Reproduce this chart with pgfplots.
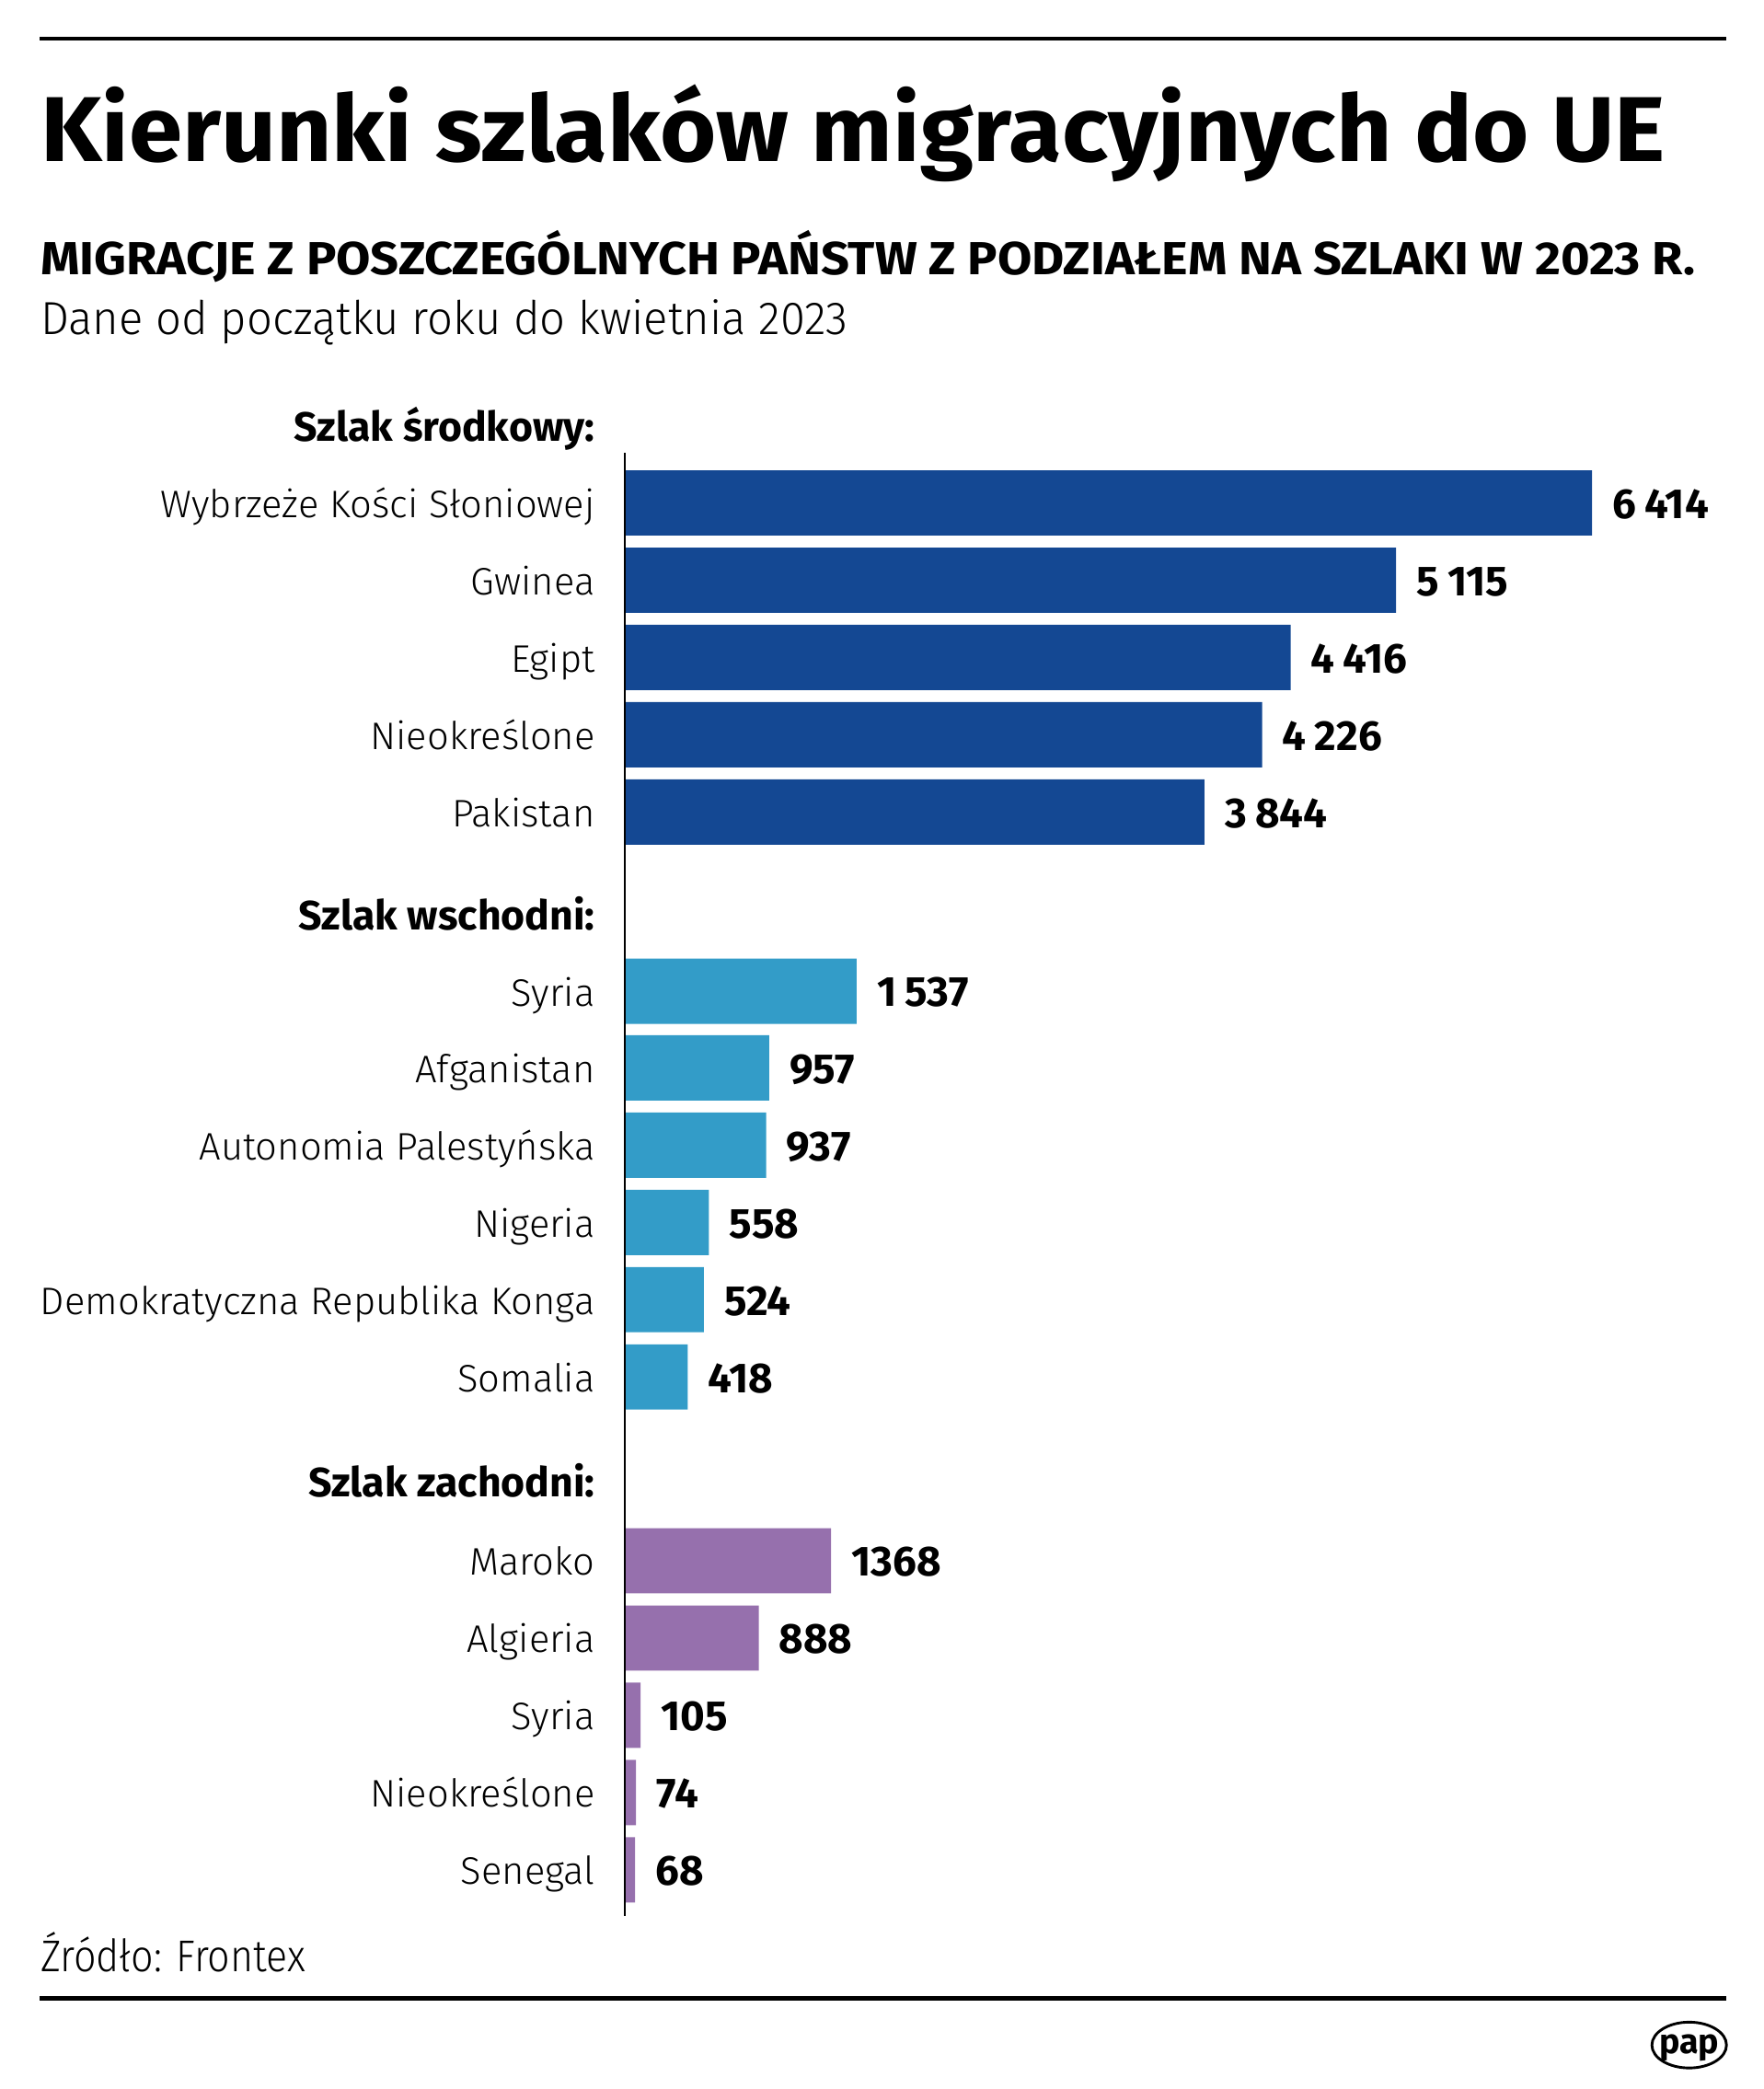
\documentclass[border=0pt]{standalone}
\usepackage{fontspec}
\setmainfont{Fira Sans}
\newfontfamily\lt{Fira Sans Light}
\usepackage{graphicx}
\usepackage{pgfplots}
\pgfplotsset{compat=1.18}
\definecolor{cA}{HTML}{144893}
\definecolor{cB}{HTML}{339CC8}
\definecolor{cC}{HTML}{9670AD}
\newcommand\lab[2]{\node[anchor=base east,inner sep=0] at (447,#1) {\fontsize{14.4}{15}\lt #2};}
\newcommand\hdr[2]{\node[anchor=base east,inner sep=0] at (447,#1) {\fontsize{15.4}{16}\selectfont\bfseries #2};}
\newcommand\gsp{\hspace{0.2em}}
\begin{document}
\begin{tikzpicture}[x=0.5pt,y=-0.5pt]
\path[use as bounding box] (0,0) rectangle (1324,1568);
\draw[line width=1.5pt] (30,29) -- (1296,29);
\node[anchor=base west,inner sep=0] at (30,121) {\resizebox{610pt}{\height}{\fontsize{34.6}{36}\selectfont\bfseries Kierunki szlaków migracyjnych do UE}};
\node[anchor=base west,inner sep=0] at (30,206) {\resizebox{621pt}{\height}{\fontsize{17.4}{18}\selectfont\bfseries MIGRACJE Z POSZCZEGÓLNYCH PAŃSTW Z PODZIAŁEM NA SZLAKI W 2023 R.}};
\node[anchor=base west,inner sep=0] at (30,251) {\resizebox{303pt}{\height}{\fontsize{17.4}{18}\lt Dane od początku roku do kwietnia 2023}};
\hdr{331.5}{Szlak środkowy:}
\lab{388.5}{Wybrzeże Kości Słoniowej}
\lab{446.5}{Gwinea}
\lab{504.5}{Egipt}
\lab{562.5}{Nieokreślone}
\lab{620.5}{Pakistan}
\hdr{698}{Szlak wschodni:}
\lab{755.5}{Syria}
\lab{813}{Afganistan}
\lab{871}{Autonomia Palestyńska}
\lab{929}{Nigeria}
\lab{987}{Demokratyczna Republika Konga}
\lab{1045}{Somalia}
\hdr{1123.5}{Szlak zachodni:}
\lab{1182.5}{Maroko}
\lab{1240.5}{Algieria}
\lab{1298.5}{Syria}
\lab{1356.5}{Nieokreślone}
\lab{1414.5}{Senegal}
\begin{axis}[at={(234.5pt,0pt)}, anchor=north west, x=0.0566pt, y=0.5pt,
  xmin=0, xmax=7553, ymin=-1568, ymax=0, hide axis, clip=false,
  point meta=explicit symbolic]
\addplot[xbar, bar shift=0pt, bar width=49, fill=cA, draw=none,
  nodes near coords, nodes near coords style={anchor=base west, inner sep=0pt, xshift=7.5pt, yshift=-5.8pt, font=\fontsize{15.8}{16}\selectfont\bfseries, text=black}]
  coordinates {(6414,-377.5) [6\gsp414] (5115,-435.5) [5\gsp115] (4416,-493.5) [4\gsp416] (4226,-551.5) [4\gsp226] (3844,-609.5) [3\gsp844]};
\addplot[xbar, bar shift=0pt, bar width=49, fill=cB, draw=none,
  nodes near coords, nodes near coords style={anchor=base west, inner sep=0pt, xshift=7.5pt, yshift=-5.8pt, font=\fontsize{15.8}{16}\selectfont\bfseries, text=black}]
  coordinates {(1537,-744) [1\gsp537] (957,-801.5) [957] (937,-859.5) [937] (558,-917.5) [558] (524,-975.5) [524] (418,-1033.5) [418]};
\addplot[xbar, bar shift=0pt, bar width=49, fill=cC, draw=none,
  nodes near coords, nodes near coords style={anchor=base west, inner sep=0pt, xshift=7.5pt, yshift=-5.8pt, font=\fontsize{15.8}{16}\selectfont\bfseries, text=black}]
  coordinates {(1368,-1171.5) [1368] (888,-1229.5) [888] (105,-1287.5) [105] (74,-1345.5) [74] (68,-1403.5) [68]};
\draw[line width=0.8pt] (axis cs:0,-340) -- (axis cs:0,-1438);
\end{axis}
\node[anchor=base west,inner sep=0] at (30,1480) {\resizebox{99.5pt}{\height}{\fontsize{16.7}{18}\lt Źródło: Frontex}};
\draw[line width=1.5pt] (30,1500) -- (1296,1500);
\draw[line width=1pt] (1268,1535) ellipse [x radius=14pt, y radius=8.6pt];
\node[inner sep=0] at (1268,1537) {\fontsize{13}{13}\selectfont\bfseries pap};
\end{tikzpicture}
\end{document}
